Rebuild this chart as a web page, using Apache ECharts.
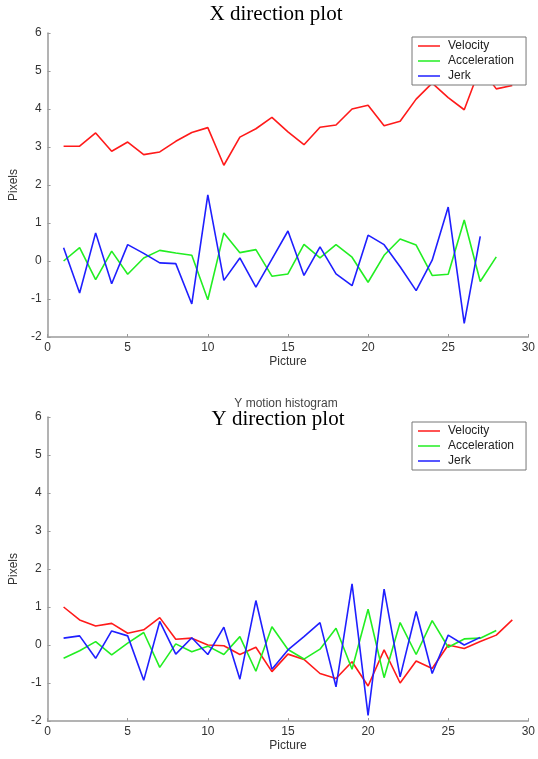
<!DOCTYPE html>
<html>
<head>
<meta charset="utf-8">
<script src="https://cdn.jsdelivr.net/npm/echarts@6/dist/echarts.min.js"></script>
<style>
  html, body { margin: 0; padding: 0; background: #fff; }
  #chart { width: 538px; height: 759px; }
</style>
</head>
<body>
<div id="chart"></div>
<script>
// Frame-to-frame motion (pixels) in the X direction
const xVelocity = [3.02, 3.02, 3.37, 2.89, 3.13, 2.80, 2.87, 3.15, 3.38, 3.51,
                   2.52, 3.26, 3.48, 3.78, 3.40, 3.06, 3.52, 3.58, 4.00, 4.10,
                   3.56, 3.68, 4.26, 4.68, 4.30, 3.98, 5.10, 4.53, 4.62];
const xAcceleration = [0.00, 0.35, -0.49, 0.26, -0.35, 0.08, 0.28, 0.21, 0.15, -1.02,
                       0.74, 0.22, 0.30, -0.40, -0.34, 0.44, 0.08, 0.43, 0.10, -0.56,
                       0.15, 0.58, 0.42, -0.38, -0.35, 1.08, -0.54, 0.11];
const xJerk = [0.35, -0.84, 0.74, -0.60, 0.43, 0.20, -0.05, -0.07, -1.13, 1.74,
               -0.51, 0.08, -0.69, 0.05, 0.79, -0.38, 0.37, -0.34, -0.65, 0.68,
               0.43, -0.15, -0.78, 0.02, 1.42, -1.64, 0.65];

// Frame-to-frame motion (pixels) in the Y direction
const yVelocity = [1.00, 0.66, 0.50, 0.57, 0.31, 0.40, 0.72, 0.15, 0.18, 0.00,
                   -0.02, -0.25, -0.06, -0.70, -0.24, -0.38, -0.75, -0.88, -0.44, -1.08,
                   -0.13, -1.00, -0.42, -0.62, 0.00, -0.09, 0.09, 0.26, 0.66];
const yAcceleration = [-0.35, -0.15, 0.09, -0.26, 0.05, 0.33, -0.59, 0.03, -0.18, -0.03,
                       -0.25, 0.22, -0.69, 0.48, -0.12, -0.37, -0.11, 0.44, -0.64, 0.94,
                       -0.86, 0.59, -0.25, 0.64, -0.06, 0.16, 0.18, 0.38];
const yJerk = [0.18, 0.24, -0.35, 0.37, 0.24, -0.93, 0.62, -0.24, 0.19, -0.25,
               0.47, -0.90, 1.17, -0.64, -0.13, 0.22, 0.59, -1.10, 1.61, -1.85,
               1.47, -0.84, 0.88, -0.75, 0.26, 0.00, 0.20];

const seriesNames = ['Velocity', 'Acceleration', 'Jerk'];
const seriesColors = ['#ff1a1a', '#22ee22', '#1f1fff'];

const xTicks = { min: 0, max: 30, interval: 5 };
const yTicks = { min: -2, max: 6, interval: 1 };

// pictures are numbered from 1
const toPoints = arr => arr.map((v, i) => [i + 1, v]);

const fontSans = '"Liberation Sans", Arial, Helvetica, sans-serif';
const fontSerif = '"Liberation Serif", "Times New Roman", serif';
const axisGray = '#9a9a9a';
const labelColor = '#333';

function makeXAxis(gridIndex) {
  return {
    type: 'value', gridIndex,
    min: xTicks.min, max: xTicks.max, interval: xTicks.interval,
    name: 'Picture', nameLocation: 'middle', nameGap: 19,
    nameTextStyle: { fontFamily: fontSans, fontSize: 12, color: labelColor },
    axisLine: { show: true, onZero: false, lineStyle: { color: axisGray, width: 1.5 } },
    axisTick: { show: true, inside: true, length: 3, lineStyle: { color: axisGray } },
    axisLabel: { fontFamily: fontSans, fontSize: 12, color: labelColor, margin: 5 },
    splitLine: { show: false }
  };
}
function makeYAxis(gridIndex) {
  return {
    type: 'value', gridIndex,
    min: yTicks.min, max: yTicks.max, interval: yTicks.interval,
    name: 'Pixels', nameLocation: 'middle', nameGap: 19,
    nameTextStyle: { fontFamily: fontSans, fontSize: 12, color: labelColor },
    axisLine: { show: true, onZero: false, lineStyle: { color: axisGray, width: 1.5 } },
    axisTick: { show: true, inside: true, length: 3, lineStyle: { color: axisGray } },
    axisLabel: { fontFamily: fontSans, fontSize: 12, color: labelColor, margin: 6 },
    splitLine: { show: false }
  };
}
function makeLegend(top) {
  return {
    orient: 'vertical', left: 412, top,
    data: seriesNames,
    icon: 'rect', itemWidth: 22, itemHeight: 1.5, itemGap: 3,
    padding: [3, 12, 3, 6],
    backgroundColor: '#fff', borderColor: '#777', borderWidth: 1,
    textStyle: { fontFamily: fontSans, fontSize: 12, color: '#222', padding: [0, 0, 0, 3] },
    selectedMode: false
  };
}
function makeLine(name, color, data, idx) {
  return {
    type: 'line', name, data: toPoints(data),
    xAxisIndex: idx, yAxisIndex: idx,
    showSymbol: false, symbol: 'none',
    lineStyle: { color, width: 1.6 },
    itemStyle: { color },
    animation: false
  };
}

const chart = echarts.init(document.getElementById('chart'), null, { renderer: 'canvas' });
chart.setOption({
  backgroundColor: '#fff',
  animation: false,
  title: [
    { text: 'X direction plot', left: 276, top: 4, textAlign: 'center', padding: 0,
      textStyle: { fontFamily: fontSerif, fontSize: 21, fontWeight: 'normal', color: '#000' } },
    { text: 'Y motion histogram', left: 286, top: 398, textAlign: 'center', padding: 0,
      textStyle: { fontFamily: fontSans, fontSize: 12, fontWeight: 'normal', color: '#444' } },
    { text: 'Y direction plot', left: 276, top: 408, textAlign: 'center', padding: [1, 2, 0, 2],
      backgroundColor: '#fff',
      textStyle: { fontFamily: fontSerif, fontSize: 21, fontWeight: 'normal', color: '#000' } }
  ],
  legend: [makeLegend(37), makeLegend(422)],
  grid: [
    { left: 42, top: 33, width: 489, height: 304, containLabel: false },
    { left: 42, top: 417, width: 489, height: 304, containLabel: false }
  ],
  xAxis: [makeXAxis(0), makeXAxis(1)],
  yAxis: [makeYAxis(0), makeYAxis(1)],
  series: [
    makeLine(seriesNames[0], seriesColors[0], xVelocity, 0),
    makeLine(seriesNames[1], seriesColors[1], xAcceleration, 0),
    makeLine(seriesNames[2], seriesColors[2], xJerk, 0),
    makeLine(seriesNames[0], seriesColors[0], yVelocity, 1),
    makeLine(seriesNames[1], seriesColors[1], yAcceleration, 1),
    makeLine(seriesNames[2], seriesColors[2], yJerk, 1)
  ]
});
</script>
</body>
</html>
